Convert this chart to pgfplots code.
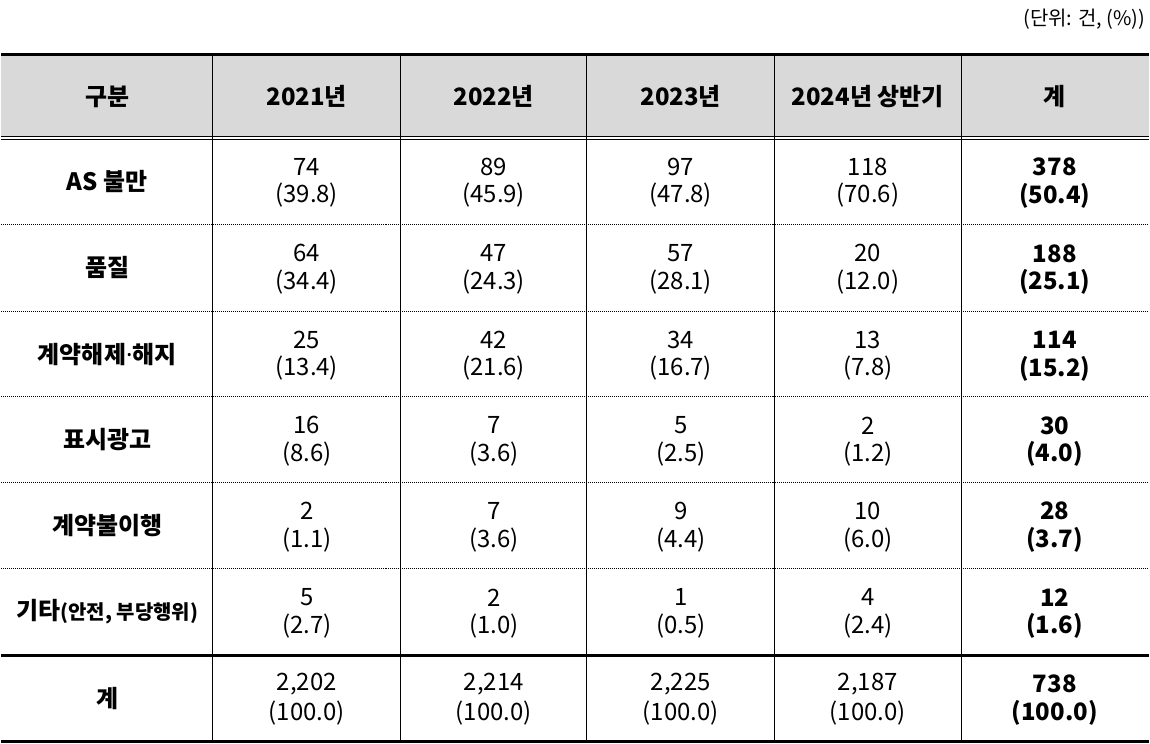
\documentclass[border=0pt]{standalone}
\usepackage{fontspec}
\setmainfont{Noto Sans CJK KR}
\newfontfamily\latinfont{Noto Sans}
\usepackage{pgfplots}
\pgfplotsset{compat=1.18}
\usepackage{pgfplotstable}

\definecolor{headgray}{RGB}{217,217,217}
\newcommand\sm[1]{{\fontsize{20}{24}\selectfont #1}}
\newcommand\mdot{{\latinfont\bfseries ·}}
\newcommand\bodyfont{\fontsize{24}{29}\selectfont}

% x = column centre, y = row centre (pixels from top)
\pgfplotstableread{
x y n p
306 181.5 74 39.8
306 268.5 64 34.4
306 355 25 13.4
306 441 16 8.6
306 527 2 1.1
306 613.5 5 2.7
306 700 2,202 100.0
493.5 181.5 89 45.9
493.5 268.5 47 24.3
493.5 355 42 21.6
493.5 441 7 3.6
493.5 527 7 3.6
493.5 613.5 2 1.0
493.5 700 2,214 100.0
681 181.5 97 47.8
681 268.5 57 28.1
681 355 34 16.7
681 441 5 2.5
681 527 9 4.4
681 613.5 1 0.5
681 700 2,225 100.0
868.5 181.5 118 70.6
868.5 268.5 20 12.0
868.5 355 13 7.8
868.5 441 2 1.2
868.5 527 10 6.0
868.5 613.5 4 2.4
868.5 700 2,187 100.0
}\cells

\pgfplotstableread{
x y n p
1056 181.5 378 50.4
1056 268.5 188 25.1
1056 355 114 15.2
1056 441 30 4.0
1056 527 28 3.7
1056 613.5 12 1.6
1056 700 738 100.0
}\totals

\begin{document}
\begin{tikzpicture}
\begin{axis}[
  scale only axis, width=1150pt, height=745pt,
  xmin=0, xmax=1150, ymin=0, ymax=745, y dir=reverse,
  hide axis, clip=false,
  point meta=explicit symbolic,
  every node near coord/.append style={anchor=center, align=center,
    inner sep=0pt, font=\bodyfont},
]
\path (rel axis cs:0,0) rectangle (rel axis cs:1,1);
\fill[headgray] (axis cs:0,56) rectangle (axis cs:1150,137);

% rules
\draw[line width=3pt] (axis cs:0,55) -- (axis cs:1150,55);
\draw[line width=1pt] (axis cs:0,137) -- (axis cs:1150,137);
\draw[line width=1pt] (axis cs:0,140) -- (axis cs:1150,140);
\pgfplotsinvokeforeach{225,312,398,484,570}{
  \draw[line width=1pt, dash pattern=on 1pt off 1pt] (axis cs:0,#1) -- (axis cs:1150,#1);
}
\draw[line width=3pt] (axis cs:0,657) -- (axis cs:1150,657);
\draw[line width=3pt] (axis cs:0,743) -- (axis cs:1150,743);
\pgfplotsinvokeforeach{212,400,587,775,962}{
  \draw[line width=1pt] (axis cs:#1,55) -- (axis cs:#1,743);
}

% header
\addplot[only marks, mark=none, nodes near coords={\pgfplotspointmeta},
  every node near coord/.append style={font=\bodyfont\bfseries}]
  table[meta=t] {
x y t
106 97 구분
306 97 2021년
493.5 97 2022년
681 97 2023년
868.5 97 {2024년 상반기}
1056 97 계
};

% row labels
\addplot[only marks, mark=none, nodes near coords={\pgfplotspointmeta},
  every node near coord/.append style={font=\bodyfont\bfseries}]
  table[meta=t] {
x y t
106 181.5 {AS 불만}
106 268.5 품질
106 355 {계약해제\mdot 해지}
106 441 표시광고
106 527 계약불이행
106 613.5 {기타\sm{(안전, 부당행위)}}
106 700 계
};

% values: counts above, shares below
\addplot[only marks, mark=none, nodes near coords={\pgfplotspointmeta},
  every node near coord/.append style={yshift=14.5pt}]
  table[x=x, y=y, meta=n] {\cells};
\addplot[only marks, mark=none, nodes near coords={(\pgfplotspointmeta)},
  every node near coord/.append style={yshift=-14.5pt}]
  table[x=x, y=y, meta=p] {\cells};

\addplot[only marks, mark=none, nodes near coords={\pgfplotspointmeta},
  every node near coord/.append style={yshift=14.5pt, font=\bodyfont\bfseries}]
  table[x=x, y=y, meta=n] {\totals};
\addplot[only marks, mark=none, nodes near coords={(\pgfplotspointmeta)},
  every node near coord/.append style={yshift=-14.5pt, font=\bodyfont\bfseries}]
  table[x=x, y=y, meta=p] {\totals};

\node[anchor=east, inner sep=0pt, font=\fontsize{20}{24}\selectfont]
  at (axis cs:1147,19) {(단위: 건, (\%))};
\end{axis}
\end{tikzpicture}
\end{document}
